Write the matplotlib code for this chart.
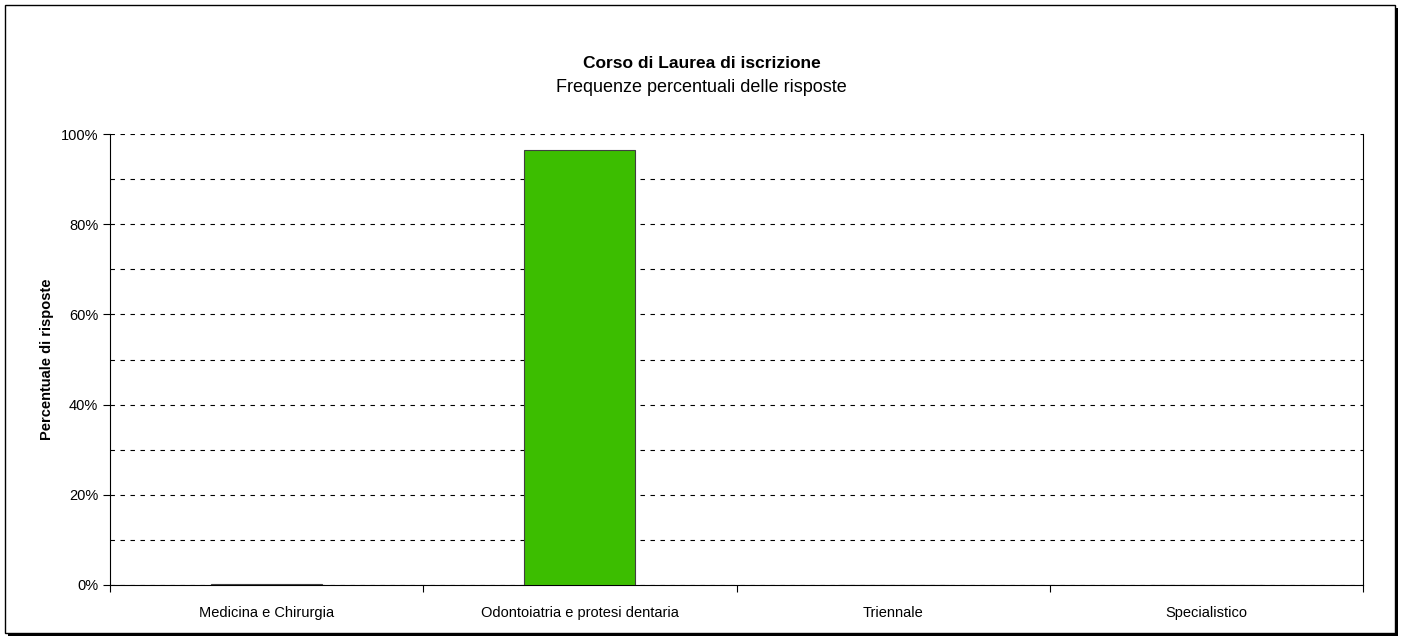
import matplotlib.pyplot as plt
from matplotlib.patches import Rectangle
from matplotlib.ticker import FixedLocator, PercentFormatter

categories = ['Medicina e Chirurgia', 'Odontoiatria e protesi dentaria', 'Triennale', 'Specialistico']
values = [0.3, 96.5, 0.0, 0.0]

plt.rcParams['font.family'] = ['Liberation Sans', 'DejaVu Sans']

fig = plt.figure(figsize=(14.03, 6.39), dpi=100)
ax = fig.add_axes([110 / 1403, 1 - 585 / 639, (1363 - 110) / 1403, (585 - 134) / 639])
ax.set_zorder(5)

# outer frame with shadow
fig.patches.append(Rectangle((8 / 1403, 1 - 636 / 639), 1390 / 1403, 628 / 639,
                             transform=fig.transFigure, facecolor='black', edgecolor='none', zorder=0))
fig.patches.append(Rectangle((5 / 1403, 1 - 633 / 639), 1390 / 1403, 628 / 639,
                             transform=fig.transFigure, facecolor='white', edgecolor='black',
                             linewidth=1, zorder=1))

x = range(len(categories))
ax.bar(x, values, width=0.355, color='#3CBE00', edgecolor='#404040', linewidth=0.8, zorder=3)

ax.set_xlim(-0.5, 3.5)
ax.set_ylim(0, 100)
ax.set_facecolor('none')
ax.set_yticks(range(0, 101, 20))
ax.yaxis.set_major_formatter(PercentFormatter(decimals=0))
ax.yaxis.set_minor_locator(FixedLocator(range(10, 100, 20)))
ax.set_xticks(list(x))
ax.set_xticklabels(categories, fontsize=10.5)
ax.xaxis.set_minor_locator(FixedLocator([-0.5, 0.5, 1.5, 2.5, 3.5]))
ax.tick_params(axis='x', which='major', length=0, pad=15)
ax.tick_params(axis='x', which='minor', length=5, width=0.8)
ax.tick_params(axis='y', which='major', length=5, width=0.8, labelsize=10.5)
ax.tick_params(axis='y', which='minor', length=0)

ax.grid(axis='y', which='both', linestyle=(0, (4, 5)), color='black', linewidth=0.8, zorder=0)
ax.spines['top'].set_visible(False)
ax.spines['right'].set_linewidth(0.8)
ax.spines['left'].set_linewidth(0.8)
ax.spines['bottom'].set_linewidth(0.8)

ax.set_ylabel('Percentuale di risposte', fontsize=10.5, fontweight='bold', labelpad=5)

fig.text(0.5, 1 - 63 / 639, 'Corso di Laurea di iscrizione', ha='center', va='center',
         fontsize=12.5, fontweight='bold')
fig.text(0.5, 1 - 88 / 639, 'Frequenze percentuali delle risposte', ha='center', va='center',
         fontsize=13)

fig.savefig('out.png', dpi=100)
